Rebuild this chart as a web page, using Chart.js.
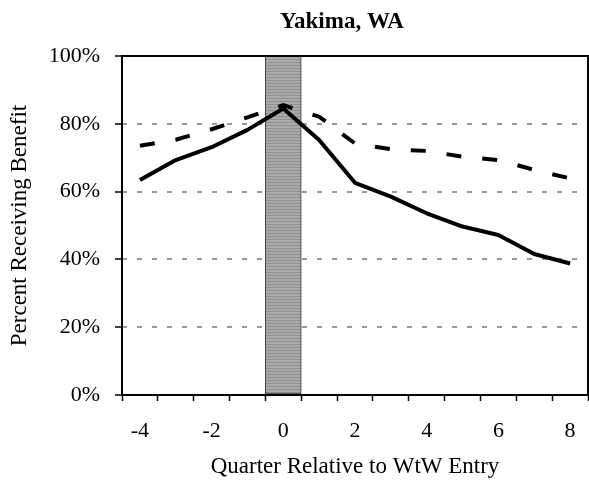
<!DOCTYPE html>
<html>
<head>
<meta charset="utf-8">
<title>Yakima, WA</title>
<script src="https://cdn.jsdelivr.net/npm/chart.js@4.4.1/dist/chart.umd.min.js"></script>
<style>
  body { margin: 0; background: #fff; }
  canvas { display: block; }
</style>
</head>
<body>
<canvas id="chart" width="589" height="483"></canvas>
<script>
// quarters relative to entry, and the share receiving benefit (%)
var quarters = [-4, -3, -2, -1, 0, 1, 2, 3, 4, 5, 6, 7, 8];
var solidSeries = [63.4, 69.3, 73.1, 78.2, 84.5, 75.2, 62.6, 58.5, 53.6, 49.7, 47.2, 41.6, 38.8];
var dashedSeries = [73.5, 75.3, 78.4, 81.9, 85.5, 82.1, 74.2, 72.5, 72.0, 70.3, 69.3, 66.4, 63.9];
var entryQuarter = 0;
var yTicks = [0, 20, 40, 60, 80, 100];
var chartTitle = 'Yakima, WA';

var band = quarters.map(function(q) { return q === entryQuarter ? 100 : null; });

var serif = "'Liberation Serif', 'Times New Roman', serif";

// striped grey fill for the entry-quarter band
function stripePattern() {
  var c = document.createElement('canvas');
  c.width = 4; c.height = 3;
  var g = c.getContext('2d');
  g.fillStyle = '#aaaaaa';
  g.fillRect(0, 0, 4, 3);
  g.fillStyle = '#909090';
  g.fillRect(0, 2, 4, 1);
  return g.createPattern(c, 'repeat');
}

// box round the plot area
var frame = {
  id: 'frame',
  afterDatasetsDraw: function(chart) {
    var a = chart.chartArea, ctx = chart.ctx;
    ctx.save();
    ctx.strokeStyle = '#000';
    ctx.lineWidth = 2;
    ctx.strokeRect(a.left, a.top, a.right - a.left, a.bottom - a.top);
    ctx.restore();
  }
};

// heading centred over the plot area rather than the whole canvas
var heading = {
  id: 'heading',
  afterDraw: function(chart) {
    var a = chart.chartArea, ctx = chart.ctx;
    ctx.save();
    ctx.fillStyle = '#000';
    ctx.font = 'bold 23px ' + serif;
    ctx.textAlign = 'center';
    ctx.textBaseline = 'alphabetic';
    ctx.fillText(chartTitle, (a.left + a.right) / 2 - 13, 28);
    ctx.restore();
  }
};

function noSidePadding(s) {
  s.paddingLeft = 0;
  s.paddingRight = 0;
}

new Chart(document.getElementById('chart'), {
  type: 'bar',
  data: {
    labels: quarters,
    datasets: [
      {
        type: 'line',
        data: solidSeries,
        borderColor: '#000',
        borderWidth: 4,
        pointRadius: 0,
        tension: 0,
        borderJoinStyle: 'round',
        order: 1
      },
      {
        type: 'line',
        data: dashedSeries,
        borderColor: '#000',
        borderWidth: 4,
        borderDash: [15, 21],
        pointRadius: 0,
        tension: 0,
        order: 2
      },
      {
        type: 'bar',
        data: band,
        backgroundColor: stripePattern(),
        borderColor: '#333',
        borderWidth: 1,
        borderSkipped: false,
        barPercentage: 1,
        categoryPercentage: 1,
        order: 3
      }
    ]
  },
  options: {
    responsive: false,
    animation: false,
    devicePixelRatio: 1,
    layout: { padding: { left: 0, right: 1, top: 56, bottom: 0 } },
    plugins: {
      legend: { display: false },
      tooltip: { enabled: false },
      title: { display: false }
    },
    scales: {
      x: {
        offset: true,
        grid: {
          offset: true,
          drawOnChartArea: false,
          tickLength: 6,
          tickColor: '#000',
          tickWidth: 1.5
        },
        border: { display: false },
        ticks: {
          autoSkip: false,
          maxRotation: 0,
          padding: 16.6,
          color: '#000',
          font: { family: serif, size: 22 },
          callback: function(v, i) { return i % 2 === 0 ? String(quarters[i]) : ''; }
        },
        title: {
          display: true,
          text: 'Quarter Relative to WtW Entry',
          color: '#000',
          font: { family: serif, size: 23, lineHeight: 1.2 },
          padding: { top: 0, bottom: 2 }
        },
        afterFit: function(s) {
          s.height = 88;
          noSidePadding(s);
        }
      },
      y: {
        min: 0,
        max: 100,
        afterBuildTicks: function(s) { s.ticks = yTicks.map(function(v) { return { value: v }; }); },
        grid: {
          color: function(c) {
            var v = c.tick ? c.tick.value : 0;
            return (v > 0 && v < 100) ? '#9a9a9a' : 'rgba(0,0,0,0)';
          },
          lineWidth: 2,
          tickLength: 7,
          tickColor: '#000',
          tickWidth: 1.5
        },
        border: { display: false, dash: [5, 10] },
        ticks: {
          padding: 15,
          color: '#000',
          font: { family: serif, size: 22 },
          callback: function(v) { return v + '%'; }
        },
        title: {
          display: true,
          text: 'Percent Receiving Benefit',
          color: '#000',
          font: { family: serif, size: 23, lineHeight: 1.2 },
          padding: { top: 6, bottom: 0 }
        },
        afterFit: function(s) { s.width = 122; }
      }
    }
  },
  plugins: [frame, heading]
});
</script>
</body>
</html>
